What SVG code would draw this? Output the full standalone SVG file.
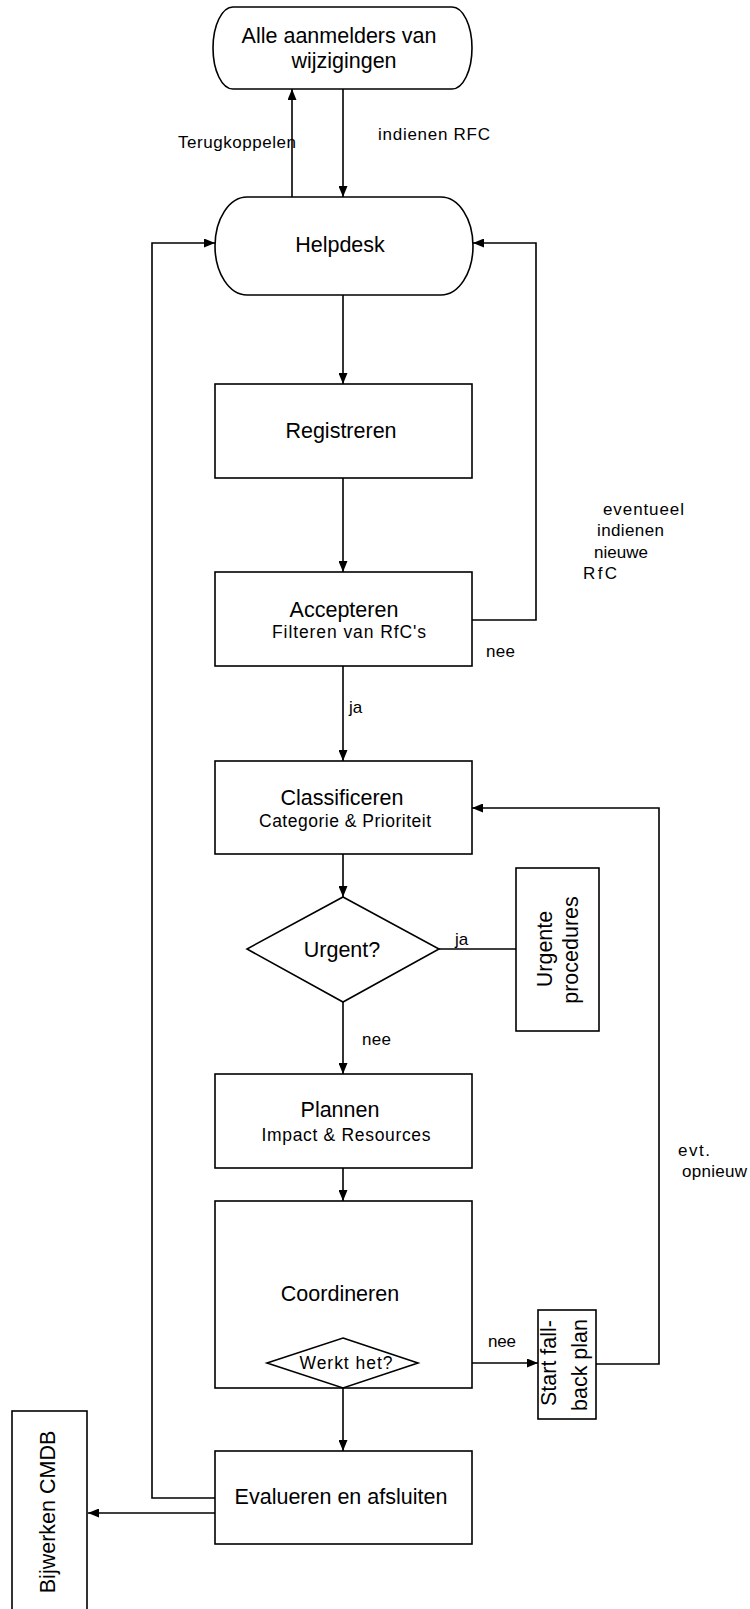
<svg xmlns="http://www.w3.org/2000/svg" width="750" height="1609" viewBox="0 0 750 1609">
<style>
.box{fill:#fff;stroke:#000;stroke-width:1.6}
.ln{fill:none;stroke:#000;stroke-width:1.6}
.arr{marker-end:url(#ah)}
.t{font-family:"Liberation Sans",Arial,sans-serif;font-size:21.5px;fill:#000;text-anchor:middle}
.s{font-family:"Liberation Sans",Arial,sans-serif;font-size:17.5px;fill:#000;text-anchor:middle}
.l{font-family:"Liberation Sans",Arial,sans-serif;font-size:17px;fill:#000}
</style>
<defs>
<marker id="ah" viewBox="0 0 11 9" refX="11" refY="4.5" markerWidth="11" markerHeight="9" markerUnits="userSpaceOnUse" orient="auto">
<path d="M0,0 L11,4.5 L0,9 z" fill="#000"/>
</marker>
</defs>
<rect width="750" height="1609" fill="#fff"/>

<g id="connectors">
<line class="ln arr" x1="343" y1="89" x2="343" y2="197"/>
<line class="ln arr" x1="292" y1="197" x2="292" y2="89"/>
<line class="ln arr" x1="343" y1="295" x2="343" y2="384"/>
<line class="ln arr" x1="343" y1="478" x2="343" y2="572"/>
<line class="ln arr" x1="343" y1="666" x2="343" y2="761"/>
<polyline class="ln arr" points="472,620 536,620 536,243 473,243"/>
<line class="ln arr" x1="343" y1="854" x2="343" y2="897"/>
<line class="ln" x1="439" y1="949" x2="516" y2="949"/>
<line class="ln arr" x1="343" y1="1002" x2="343" y2="1074"/>
<line class="ln arr" x1="343" y1="1168" x2="343" y2="1201"/>
<line class="ln arr" x1="418" y1="1363" x2="538" y2="1363"/>
<polyline class="ln arr" points="596,1364 659,1364 659,808 472,808"/>
<line class="ln arr" x1="343" y1="1388" x2="343" y2="1451"/>
<polyline class="ln arr" points="215,1498 152,1498 152,243 215,243"/>
<line class="ln arr" x1="215" y1="1513" x2="88" y2="1513"/>
<text class="l" x="178" y="148" textLength="118" lengthAdjust="spacing">Terugkoppelen</text>
<text class="l" x="378" y="140" textLength="112" lengthAdjust="spacing">indienen RFC</text>
<text class="l" x="603" y="515" textLength="81" lengthAdjust="spacing">eventueel</text>
<text class="l" x="597" y="536" textLength="67" lengthAdjust="spacing">indienen</text>
<text class="l" x="594" y="558" textLength="54" lengthAdjust="spacing">nieuwe</text>
<text class="l" x="583" y="579" textLength="34" lengthAdjust="spacing">RfC</text>
<text class="l" x="486" y="657" textLength="29" lengthAdjust="spacing">nee</text>
<text class="l" x="349" y="713">ja</text>
<text class="l" x="455" y="945">ja</text>
<text class="l" x="362" y="1045" textLength="29" lengthAdjust="spacing">nee</text>
<text class="l" x="488" y="1347" textLength="28" lengthAdjust="spacing">nee</text>
<text class="l" x="678" y="1156" textLength="32" lengthAdjust="spacing">evt.</text>
<text class="l" x="682" y="1177" textLength="65" lengthAdjust="spacing">opnieuw</text>
</g>

<g id="aanmelders">
<path class="box" d="M233,7 H452 A20,41 0 0 1 452,89 H233 A20,41 0 0 1 233,7 Z"/>
<text class="t" x="339" y="43">Alle aanmelders van</text>
<text class="t" x="344" y="68">wijzigingen</text>
</g>

<g id="helpdesk">
<path class="box" d="M247,197 H441 A32,49 0 0 1 441,295 H247 A32,49 0 0 1 247,197 Z"/>
<text class="t" x="340" y="252">Helpdesk</text>
</g>

<g id="registreren">
<rect class="box" x="215" y="384" width="257" height="94"/>
<text class="t" x="341" y="438">Registreren</text>
</g>

<g id="accepteren">
<rect class="box" x="215" y="572" width="257" height="94"/>
<text class="t" x="344" y="617">Accepteren</text>
<text class="s" x="349" y="638" textLength="154" lengthAdjust="spacing">Filteren van RfC's</text>
</g>

<g id="classificeren">
<rect class="box" x="215" y="761" width="257" height="93"/>
<text class="t" x="342" y="805">Classificeren</text>
<text class="s" x="345" y="827" textLength="172" lengthAdjust="spacing">Categorie &amp; Prioriteit</text>
</g>

<g id="urgent">
<polygon class="box" points="343,897 439,949 343,1002 247,949"/>
<text class="t" x="342" y="957">Urgent?</text>
</g>

<g id="urgente-procedures">
<rect class="box" x="516" y="868" width="83" height="163"/>
<text class="t" x="552" y="949" transform="rotate(-90 552 949)">Urgente</text>
<text class="t" x="578" y="950" transform="rotate(-90 578 950)">procedures</text>
</g>

<g id="plannen">
<rect class="box" x="215" y="1074" width="257" height="94"/>
<text class="t" x="340" y="1117">Plannen</text>
<text class="s" x="346" y="1141" textLength="169" lengthAdjust="spacing">Impact &amp; Resources</text>
</g>

<g id="coordineren">
<rect class="box" x="215" y="1201" width="257" height="187"/>
<text class="t" x="340" y="1301">Coordineren</text>
</g>

<g id="werkt-het">
<polygon class="box" points="343,1338 418,1363 343,1388 267,1363"/>
<text class="s" x="346" y="1369" textLength="93" lengthAdjust="spacing">Werkt het?</text>
</g>

<g id="fallback">
<rect class="box" x="538" y="1310" width="58" height="109"/>
<text class="t" x="556" y="1363" transform="rotate(-90 556 1363)">Start fall-</text>
<text class="t" x="587" y="1365" transform="rotate(-90 587 1365)">back plan</text>
</g>

<g id="evalueren">
<rect class="box" x="215" y="1451" width="257" height="93"/>
<text class="t" x="341" y="1504">Evalueren en afsluiten</text>
</g>

<g id="cmdb">
<rect class="box" x="12" y="1411" width="75" height="220"/>
<text class="t" x="55" y="1512" transform="rotate(-90 55 1512)">Bijwerken CMDB</text>
</g>
</svg>
